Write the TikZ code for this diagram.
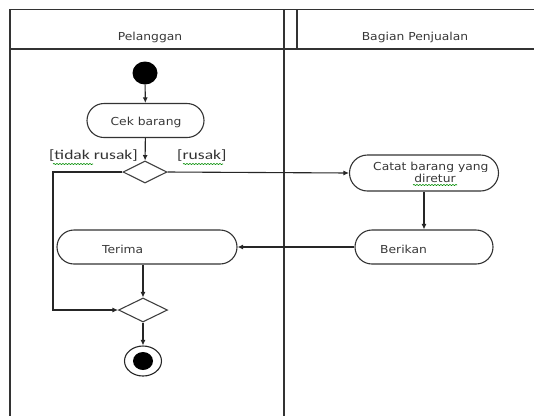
\documentclass[tikz,border=0pt]{standalone}
\usepackage{fontspec}
\setmainfont{DejaVu Sans}
\newfontfamily\bodyfont{DejaVu Sans}[FakeStretch=1.12]
\newfontfamily\guardfont{Carlito}[FakeStretch=1.3]
\usetikzlibrary{shapes.geometric,shapes.misc,arrows.meta,decorations.pathmorphing}

\begin{document}
\begin{tikzpicture}[x=1pt,y=-1pt,
  lane/.style={line width=1.4pt, draw=black!80},
  flow/.style={line width=1.1pt, draw=black!85, -{Latex[length=5.5pt,width=5pt]}},
  activity/.style={rounded rectangle, draw=black!80, line width=1.1pt, minimum height=34pt, inner sep=0pt},
  branch/.style={diamond, draw=black!75, line width=1.1pt, inner sep=0pt},
  txt/.style={text=black!78, font=\bodyfont\fontsize{11}{13}\selectfont, inner sep=0pt},
  guard/.style={text=black!80, font=\guardfont\fontsize{13.5}{15}\selectfont, inner sep=0pt},
  squiggle/.style={draw=green!55!black, line width=0.6pt, decorate,
    decoration={snake, amplitude=0.6pt, segment length=3pt}}
]
\useasboundingbox (0,0) rectangle (534,416);

% swimlane frame
\draw[lane] (534,9.5) -- (10,9.5) -- (10,416);
\draw[lane] (10,49) -- (534,49);
\draw[lane] (284,9.5) -- (284,416);
\draw[lane] (297,9.5) -- (297,49);
\node[txt] (laneA) at (150,37) {Pelanggan};
\node[txt] (laneB) at (415,37) {Bagian Penjualan};

% Pelanggan lane
\node[ellipse, fill=black, minimum width=25pt, minimum height=23pt, inner sep=0pt] (start) at (145,73) {};
\node[activity, minimum width=117pt] (cek) at (145.5,120.5) {};
\node[txt] (cekT) at (146,122) {Cek barang};
\node[branch, minimum width=44pt, minimum height=22pt] (d1) at (145,172) {};
\node[activity, minimum width=180pt] (terima) at (147,247) {};
\node[txt, anchor=west] (terimaT) at (102,249) {Terima};
\node[branch, minimum width=49pt, minimum height=24pt] (d2) at (143,310) {};
\node[ellipse, draw=black!85, line width=1.1pt, minimum width=37pt, minimum height=30pt, inner sep=0pt] (stop) at (143,361) {};
\node[ellipse, fill=black, minimum width=20pt, minimum height=18pt, inner sep=0pt] (stopIn) at (143,361) {};

% Bagian Penjualan lane
\node[activity, minimum width=149pt, minimum height=36pt] (catat) at (424,173) {};
\begin{scope}
  \clip (360,150) rectangle (497,171.5);
  \node[txt, anchor=base west] (catatA) at (373,170) {Catat barang yang};
\end{scope}
\node[txt, anchor=base] (catatB) at (435,182) {diretur};
\node[activity, minimum width=138pt] (berikan) at (424,247) {};
\node[txt, anchor=west] (berikanT) at (380,249) {Berikan};

% guards
\node[guard, anchor=east] (gNo) at (138,156) {[tidak rusak]};
\node[guard, anchor=west] (gYes) at (177,156) {[rusak]};
\path[squiggle] (53,164) -- (93,164);
\path[squiggle] (183,164) -- (223,164);
\path[squiggle] (413,185) -- (457,185);

% control flow
\draw[flow] (start) -- (cek);
\draw[flow] (cek) -- (d1);
\draw[flow] (d1.east) -- (catat.west);
\draw[flow] (catat) -- (berikan);
\draw[flow] (berikan.west) -- (terima.east);
\draw[flow] (terima.south -| d2.north) -- (d2.north);
\coordinate (bendA) at (53,172);
\coordinate (bendB) at (53,310);
\draw[flow] (d1.west) -- (bendA) -- (bendB) -- (d2.west);
\draw[flow] (d2.south) -- (stop.north);
\end{tikzpicture}
\end{document}
